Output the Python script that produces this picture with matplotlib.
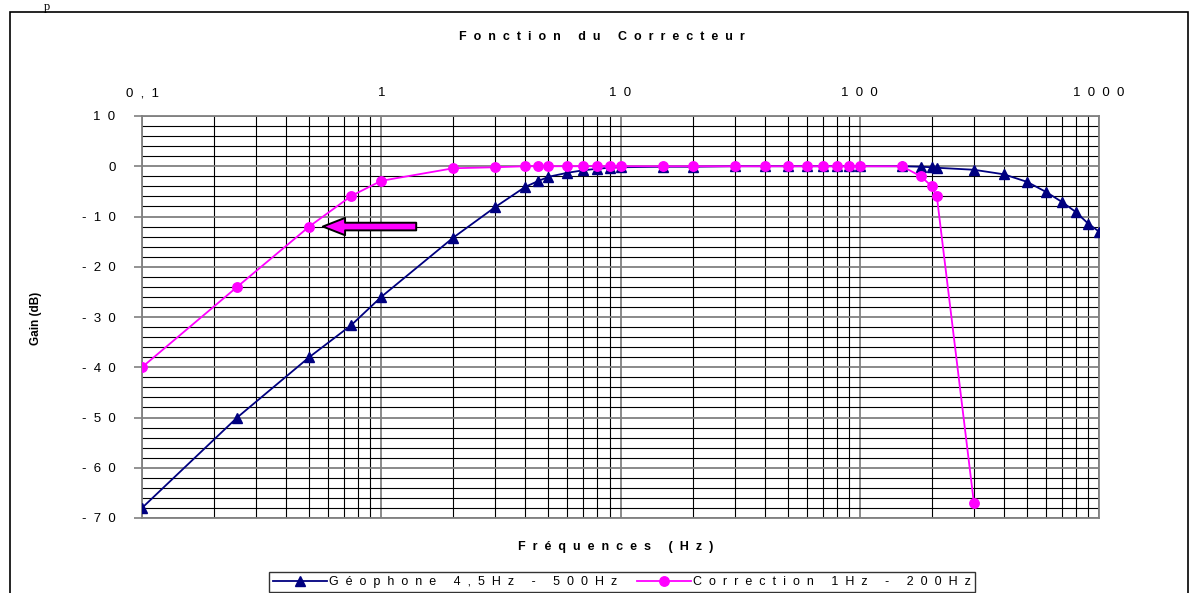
import numpy as np
import matplotlib
matplotlib.use("Agg")
import matplotlib.pyplot as plt
from matplotlib.patches import Rectangle
from matplotlib.ticker import FixedLocator, NullFormatter

plt.rcParams['font.family'] = ['Liberation Sans', 'DejaVu Sans']

# frequencies (Hz)
freq_geo = [0.1, 0.25, 0.5, 0.75, 1, 2, 3, 4, 4.5, 5, 6, 7, 8, 9, 10, 15, 20, 30, 40, 50,
            60, 70, 80, 90, 100, 150, 180, 200, 210, 300, 400, 500, 600, 700, 800, 900, 1000]
gain_geo = [-68, -50, -38, -31.6, -26, -14.2, -8.1, -4.1, -3.0, -2.1, -1.3, -0.8, -0.5, -0.3, -0.2,
            -0.1, -0.1, 0, 0, 0, 0, 0, 0, 0, 0, 0, -0.1, -0.2, -0.3, -0.7, -1.6, -3.1, -5.1, -7.1,
            -9.1, -11.4, -13]

freq_cor = [0.1, 0.25, 0.5, 0.75, 1, 2, 3, 4, 4.5, 5, 6, 7, 8, 9, 10, 15, 20, 30, 40, 50,
            60, 70, 80, 90, 100, 150, 180, 200, 210, 300]
gain_cor = [-40, -24, -12, -5.9, -2.9, -0.4, -0.2, 0, 0, 0, 0, 0, 0, 0, 0, 0, 0, 0, 0, 0,
            0, 0, 0, 0, 0, 0, -2, -4, -6, -67]

x_ticks = [0.1, 1, 10, 100, 1000]
x_labels = ["0,1", "1", "10", "100", "1000"]
y_ticks = [10, 0, -10, -20, -30, -40, -50, -60, -70]


def spaced(s):
    # Excel-like wide letter spacing
    return '  '.join(s)


W, H = 1190, 593
fig = plt.figure(figsize=(W / 100, H / 100), dpi=100)
ax = fig.add_axes([142 / W, 1 - 518 / H, (1099 - 142) / W, (518 - 116) / H])

ax.set_xscale('log')
ax.set_xlim(0.1, 1000)
ax.set_ylim(-70, 10)

# grid
minor_x = [m * 10.0 ** d for d in range(-1, 3) for m in range(2, 10)]
for xv in minor_x:
    ax.axvline(xv, color='black', lw=0.8, zorder=1)
for xv in x_ticks:
    ax.axvline(xv, color='#808080', lw=1.3, zorder=1)
for yv in range(-70, 11, 2):
    if yv % 10:
        ax.axhline(yv, color='black', lw=0.8, zorder=1)
    else:
        ax.axhline(yv, color='#808080', lw=1.3, zorder=1)

ax.plot(freq_geo, gain_geo, color='#000080', lw=1.3, marker='^', markersize=7,
        label=spaced("Géophone 4,5Hz - 500Hz"), zorder=3)
ax.plot(freq_cor, gain_cor, color='#FF00FF', lw=1.3, marker='o', markersize=6.8,
        label=spaced("Correction 1Hz - 200Hz"), zorder=4)

# arrow pointing at the -12 dB point
ax.annotate('', xy=(0.57, -12), xytext=(1.40, -12),
            arrowprops=dict(arrowstyle='simple,head_length=16,head_width=12.5,tail_width=5.5',
                            mutation_scale=1, fc='#FF00FF', ec='black', lw=1.4,
                            shrinkA=0, shrinkB=0), zorder=5)

ax.xaxis.tick_top()
ax.xaxis.set_major_locator(FixedLocator(x_ticks))
ax.xaxis.set_minor_locator(FixedLocator(minor_x))
ax.xaxis.set_minor_formatter(NullFormatter())
ax.set_xticklabels([spaced(s) for s in x_labels])
ax.tick_params(axis='x', which='both', length=0, pad=12, labelsize=9.5)

ax.set_yticks(y_ticks)
ax.set_yticklabels([spaced(str(v)) for v in y_ticks])
ax.tick_params(axis='y', length=6, width=1.2, color='#808080', pad=13, labelsize=9.5)

for sp in ax.spines.values():
    sp.set_color('#808080')
    sp.set_linewidth(1.3)

fig.text(602 / W, 1 - 37 / H, spaced("Fonction du Correcteur"), ha='center', va='center',
         fontsize=9, fontweight='bold')
fig.text(616 / W, 1 - 547 / H, spaced("Fréquences (Hz)"), ha='center', va='center',
         fontsize=9, fontweight='bold')
fig.text(36 / W, 1 - 318 / H, "Gain (dB)", ha='center', va='center', rotation=90,
         fontsize=8.5, fontweight='bold')

leg = fig.legend(loc='center', bbox_to_anchor=(622 / W, 1 - 582 / H), ncol=2,
                 fontsize=9, frameon=True, fancybox=False, handlelength=4.3,
                 columnspacing=1.6, borderpad=0.35, handletextpad=0.15)
leg.get_frame().set_edgecolor('black')
leg.get_frame().set_linewidth(1)

# outer chart frame
fig.patches.append(Rectangle((10 / W, -0.05), (1188 - 10) / W, 1.05 - 12 / H,
                             transform=fig.transFigure, fill=False, ec='black', lw=1.2))
# fragment of the page text above the chart
fig.text(47 / W, 1 - 1 / H, "p", family='Liberation Serif', fontsize=9, ha='center', va='top')

fig.savefig("out.png", dpi=100)
